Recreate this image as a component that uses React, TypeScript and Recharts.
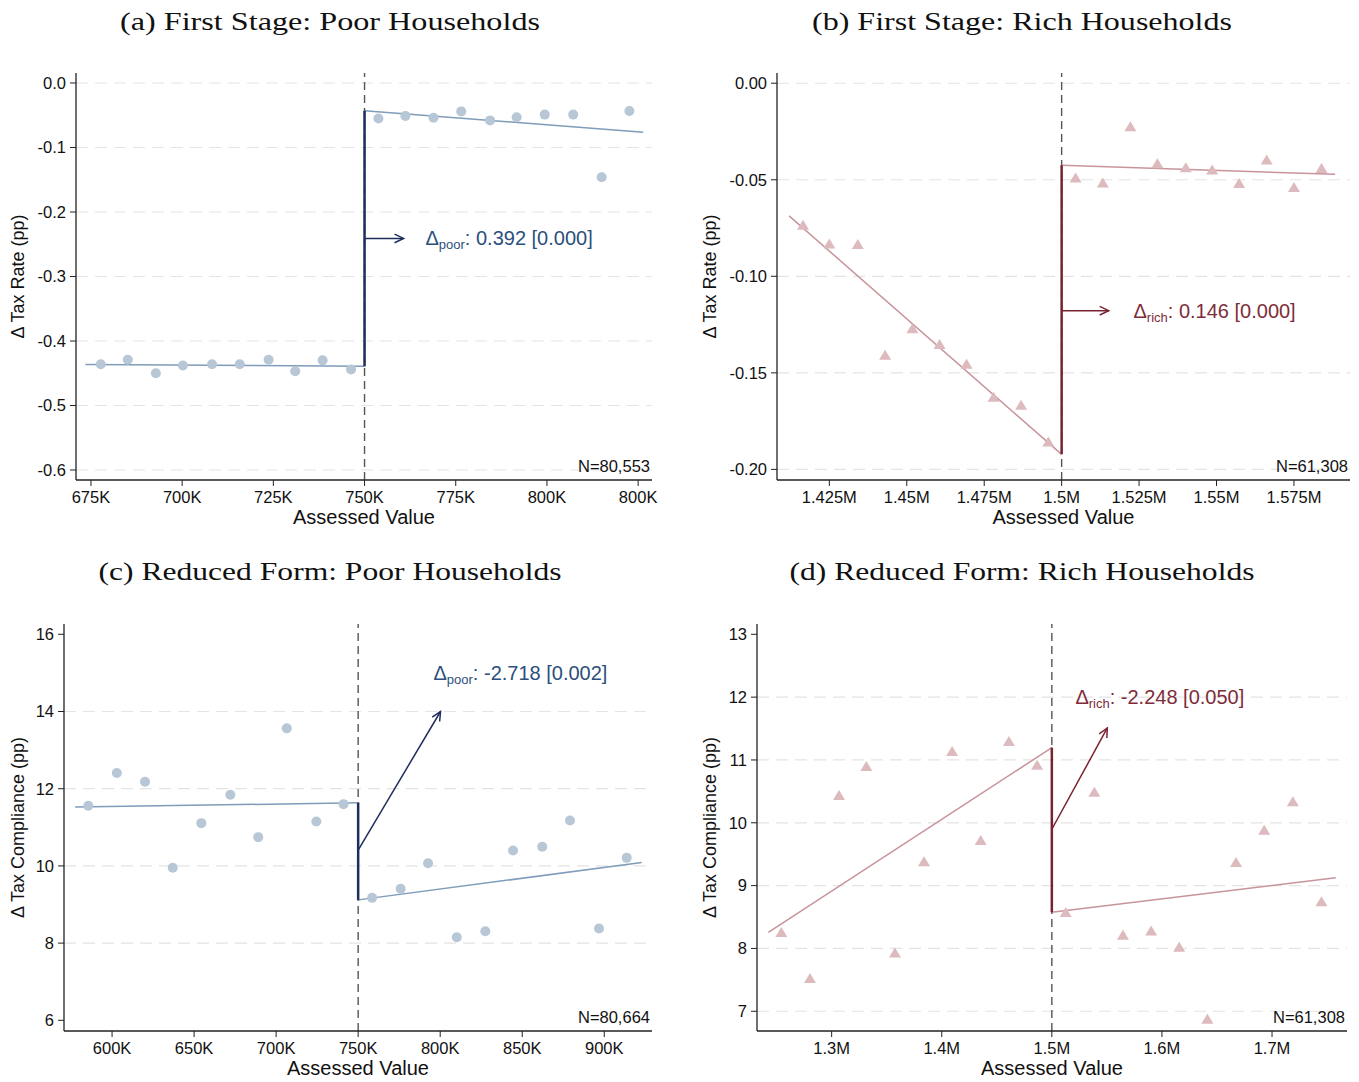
import React from 'react';
import { ComposedChart, XAxis, YAxis, Scatter, Line, ReferenceLine, ReferenceDot } from 'recharts';

// ---------------- Data ----------------
// (a) First stage, poor households (x in thousands)
const aLeftX = [677.7, 685.1, 692.8, 700.2, 708.2, 715.8, 723.7, 731.0, 738.5, 746.3];
const aLeftY = [-0.436, -0.429, -0.450, -0.438, -0.436, -0.436, -0.429, -0.447, -0.430, -0.444];
const aRightX = [753.8, 761.2, 768.9, 776.5, 784.4, 791.7, 799.4, 807.2, 815.0, 822.6];
const aRightY = [-0.055, -0.051, -0.054, -0.044, -0.058, -0.053, -0.049, -0.049, -0.146, -0.0435];
const aFitLeftX = [673.5, 750];
const aFitLeftY = [-0.4365, -0.439];
const aFitRightX = [750, 826.4];
const aFitRightY = [-0.043, -0.0762];

// (b) First stage, rich households (x in millions)
const bLeftX = [1.4165, 1.425, 1.4342, 1.443, 1.4518, 1.4606, 1.4693, 1.478, 1.4869, 1.4957];
const bLeftY = [-0.0734, -0.0831, -0.0834, -0.1408, -0.1271, -0.1352, -0.1454, -0.1625, -0.1667, -0.1857];
const bRightX = [1.5045, 1.5133, 1.5222, 1.5309, 1.5401, 1.5486, 1.5573, 1.5662, 1.575, 1.5839];
const bRightY = [-0.049, -0.0516, -0.0225, -0.0416, -0.0437, -0.0449, -0.0518, -0.0397, -0.0539, -0.044];
const bFitLeftX = [1.412, 1.5];
const bFitLeftY = [-0.0687, -0.1922];
const bFitRightX = [1.5, 1.5883];
const bFitRightY = [-0.0425, -0.0472];

// (c) Reduced form, poor households (x in thousands)
const cLeftX = [585.5, 602.9, 620.1, 637.0, 654.4, 672.1, 689.1, 706.5, 724.5, 741.1];
const cLeftY = [11.557, 12.405, 12.18, 9.95, 11.108, 11.843, 10.745, 13.563, 11.151, 11.6];
const cRightX = [758.5, 775.9, 792.6, 810.1, 827.5, 844.4, 862.2, 879.1, 896.8, 913.7];
const cRightY = [9.172, 9.405, 10.071, 8.152, 8.308, 10.4, 10.494, 11.177, 8.377, 10.209];
const cFitLeftX = [577.5, 750];
const cFitLeftY = [11.523, 11.635];
const cFitRightX = [750, 922.8];
const cFitRightY = [9.12, 10.088];

// (d) Reduced form, rich households (x in millions)
const dLeftX = [1.2543, 1.2803, 1.3067, 1.3315, 1.3575, 1.3839, 1.4094, 1.4354, 1.461, 1.4866];
const dLeftY = [8.257, 7.525, 10.438, 10.9, 7.929, 9.382, 11.138, 9.721, 11.297, 10.92];
const dRightX = [1.5126, 1.5386, 1.5646, 1.5902, 1.6157, 1.6413, 1.6673, 1.6929, 1.7189, 1.7449];
const dRightY = [8.576, 10.491, 8.215, 8.279, 8.024, 6.878, 9.371, 9.886, 10.337, 8.745];
const dFitLeftX = [1.2425, 1.5];
const dFitLeftY = [8.257, 11.196];
const dFitRightX = [1.5, 1.7579];
const dFitRightY = [8.576, 9.127];

// Jumps at the cutoff [bottom, top]
const aJump = [-0.439, -0.043];
const bJump = [-0.1922, -0.0425];
const cJump = [9.12, 11.635];
const dJump = [8.576, 11.196];

// Annotation arrows [x1, y1, x2, y2] and label anchors [x, y]
const aArrow = [750, -0.241, 760.7, -0.241];
const bArrow = [1.5, -0.1178, 1.5152, -0.1178];
const cArrow = [750, 10.41, 800.2, 14.0];
const dArrow = [1.5, 9.897, 1.5504, 11.509];
const aAnnotPos = [766.7, -0.241];
const bAnnotPos = [1.5232, -0.1178];
const cAnnotPos = [795.9, 14.815];
const dAnnotPos = [1.5214, 11.89];

// Texts
const titles = [
  '(a) First Stage: Poor Households',
  '(b) First Stage: Rich Households',
  '(c) Reduced Form: Poor Households',
  '(d) Reduced Form: Rich Households',
];
const annotSubs = ['poor', 'rich', 'poor', 'rich'];
const annotTexts = [': 0.392 [0.000]', ': 0.146 [0.000]', ': -2.718 [0.002]', ': -2.248 [0.050]'];
const nTexts = ['N=80,553', 'N=61,308', 'N=80,664', 'N=61,308'];
const yLabels = ['Δ Tax Rate (pp)', 'Δ Tax Rate (pp)', 'Δ Tax Compliance (pp)', 'Δ Tax Compliance (pp)'];
const xLabel = 'Assessed Value';

// Ticks
const aXTicks = [675, 700, 725, 750, 775, 800, 825];
const aXTickLabels = ['675K', '700K', '725K', '750K', '775K', '800K', '800K'];
const aYTicks = [0, -0.1, -0.2, -0.3, -0.4, -0.5, -0.6];
const aYTickLabels = ['0.0', '-0.1', '-0.2', '-0.3', '-0.4', '-0.5', '-0.6'];
const bXTicks = [1.425, 1.45, 1.475, 1.5, 1.525, 1.55, 1.575];
const bXTickLabels = ['1.425M', '1.45M', '1.475M', '1.5M', '1.525M', '1.55M', '1.575M'];
const bYTicks = [0, -0.05, -0.1, -0.15, -0.2];
const bYTickLabels = ['0.00', '-0.05', '-0.10', '-0.15', '-0.20'];
const cXTicks = [600, 650, 700, 750, 800, 850, 900];
const cXTickLabels = ['600K', '650K', '700K', '750K', '800K', '850K', '900K'];
const cYTicks = [6, 8, 10, 12, 14, 16];
const cYTickLabels = ['6', '8', '10', '12', '14', '16'];
const dXTicks = [1.3, 1.4, 1.5, 1.6, 1.7];
const dXTickLabels = ['1.3M', '1.4M', '1.5M', '1.6M', '1.7M'];
const dYTicks = [7, 8, 9, 10, 11, 12, 13];
const dYTickLabels = ['7', '8', '9', '10', '11', '12', '13'];
const aGrid = [0, -0.1, -0.2, -0.3, -0.4, -0.5, -0.6];
const bGrid = [0, -0.05, -0.1, -0.15, -0.2];
const cGrid = [8, 10, 12, 14];
const dGrid = [7, 8, 9, 10, 11, 12];

// ---------------- Styles ----------------
const SANS = "'Liberation Sans', Arial, Helvetica, sans-serif";
const SERIF = "'Liberation Serif', 'DejaVu Serif', serif";
const POOR = { dot: '#b8c7d6', fit: '#7f9cba', jump: '#1f2d5c', text: '#2c4f7c' };
const RICH = { dot: '#dcbabd', fit: '#c8949a', jump: '#7a2330', text: '#7e2d38' };

type Pt = { x: number; y: number };
const zip = (xs: number[], ys: number[]): Pt[] => xs.map((x, i) => ({ x, y: ys[i] }));

interface Panel {
  left: number; top: number; width: number; height: number;
  mTop: number; mRight: number; yAxisW: number; plotBottom: number;
  xDomain: [number, number]; yDomain: [number, number];
  xTicks: number[]; xTickLabels: string[]; yTicks: number[]; yTickLabels: string[];
  grid: number[]; cutoff: number;
  leftPts: Pt[]; rightPts: Pt[]; leftFit: Pt[]; rightFit: Pt[]; jump: number[];
  arrow: number[]; annotPos: number[]; idx: number;
  pal: typeof POOR; tri: boolean; yLabelX: number;
}

const panels: Panel[] = [
  {
    left: 0, top: 40, width: 680, height: 500, mTop: 33, mRight: 28, yAxisW: 76, plotBottom: 480,
    xDomain: [670.9, 828.8], yDomain: [-0.6155, 0.0155],
    xTicks: aXTicks, xTickLabels: aXTickLabels, yTicks: aYTicks, yTickLabels: aYTickLabels,
    grid: aGrid, cutoff: 750,
    leftPts: zip(aLeftX, aLeftY), rightPts: zip(aRightX, aRightY),
    leftFit: zip(aFitLeftX, aFitLeftY), rightFit: zip(aFitRightX, aFitRightY), jump: aJump,
    arrow: aArrow, annotPos: aAnnotPos, idx: 0, pal: POOR, tri: false, yLabelX: 18,
  },
  {
    left: 680, top: 40, width: 679, height: 500, mTop: 33, mRight: 9, yAxisW: 97, plotBottom: 480,
    xDomain: [1.4081, 1.5931], yDomain: [-0.2055, 0.0053],
    xTicks: bXTicks, xTickLabels: bXTickLabels, yTicks: bYTicks, yTickLabels: bYTickLabels,
    grid: bGrid, cutoff: 1.5,
    leftPts: zip(bLeftX, bLeftY), rightPts: zip(bRightX, bRightY),
    leftFit: zip(bFitLeftX, bFitLeftY), rightFit: zip(bFitRightX, bFitRightY), jump: bJump,
    arrow: bArrow, annotPos: bAnnotPos, idx: 1, pal: RICH, tri: true, yLabelX: 30,
  },
  {
    left: 0, top: 590, width: 680, height: 492, mTop: 34, mRight: 28, yAxisW: 64, plotBottom: 1031,
    xDomain: [570.7, 929.1], yDomain: [5.723, 16.267],
    xTicks: cXTicks, xTickLabels: cXTickLabels, yTicks: cYTicks, yTickLabels: cYTickLabels,
    grid: cGrid, cutoff: 750,
    leftPts: zip(cLeftX, cLeftY), rightPts: zip(cRightX, cRightY),
    leftFit: zip(cFitLeftX, cFitLeftY), rightFit: zip(cFitRightX, cFitRightY), jump: cJump,
    arrow: cArrow, annotPos: cAnnotPos, idx: 2, pal: POOR, tri: false, yLabelX: 18,
  },
  {
    left: 680, top: 590, width: 679, height: 492, mTop: 34, mRight: 12, yAxisW: 77, plotBottom: 1031,
    xDomain: [1.2322, 1.7681], yDomain: [6.686, 13.164],
    xTicks: dXTicks, xTickLabels: dXTickLabels, yTicks: dYTicks, yTickLabels: dYTickLabels,
    grid: dGrid, cutoff: 1.5,
    leftPts: zip(dLeftX, dLeftY), rightPts: zip(dRightX, dRightY),
    leftFit: zip(dFitLeftX, dFitLeftY), rightFit: zip(dFitRightX, dFitRightY), jump: dJump,
    arrow: dArrow, annotPos: dAnnotPos, idx: 3, pal: RICH, tri: true, yLabelX: 30,
  },
];

const titleCenters = [330, 1022, 330, 1022];
const titleTops = [0, 0, 550, 550];
const titleWidths = [420, 420, 463, 465];

const tickStyle = { fontSize: 16.5, fill: '#111', fontFamily: SANS };

function PanelChart({ p }: { p: Panel }) {
  const xAxisH = p.top + p.height - p.plotBottom;
  const dotShape = (props: any) => {
    const { cx, cy } = props;
    if (p.tri) {
      return (
        <path
          d={`M${cx},${cy - 5.3} L${cx + 6},${cy + 4.7} L${cx - 6},${cy + 4.7} Z`}
          fill={p.pal.dot}
        />
      );
    }
    return <circle cx={cx} cy={cy} r={5} fill={p.pal.dot} />;
  };
  const arrowShape = (props: any) => {
    const { x1, y1, x2, y2 } = props;
    const ang = Math.atan2(y2 - y1, x2 - x1);
    const L = 10;
    const A = Math.PI / 7;
    const ax = x2 - L * Math.cos(ang - A);
    const ay = y2 - L * Math.sin(ang - A);
    const bx = x2 - L * Math.cos(ang + A);
    const by = y2 - L * Math.sin(ang + A);
    return (
      <g>
        <line x1={x1} y1={y1} x2={x2} y2={y2} stroke={p.pal.jump} strokeWidth={1.5} />
        <polyline points={`${ax},${ay} ${x2},${y2} ${bx},${by}`} fill="none" stroke={p.pal.jump} strokeWidth={1.5} />
      </g>
    );
  };
  const annotShape = (props: any) => {
    const { cx, cy } = props;
    const dy0 = p.idx < 2 ? 7 : 0;
    return (
      <text x={cx} y={cy + dy0} fill={p.pal.text} fontSize={20} fontFamily={SANS}>
        <tspan>Δ</tspan>
        <tspan fontSize={13} dy={4}>{annotSubs[p.idx]}</tspan>
        <tspan dy={-4}>{annotTexts[p.idx]}</tspan>
      </text>
    );
  };
  const nShape = (props: any) => {
    const { cx, cy } = props;
    return (
      <text x={cx - 2} y={cy - 8} textAnchor="end" fill="#111" fontSize={16.5} fontFamily={SANS}>
        {nTexts[p.idx]}
      </text>
    );
  };
  const yLabelContent = (props: any) => {
    const vb = props.viewBox || {};
    const cy = vb.y + vb.height / 2;
    const x = p.yLabelX;
    return (
      <text
        x={x}
        y={cy}
        transform={`rotate(-90, ${x}, ${cy})`}
        textAnchor="middle"
        dominantBaseline="central"
        fontSize={18}
        fill="#111"
        fontFamily={SANS}
      >
        {yLabels[p.idx]}
      </text>
    );
  };
  const xLabelContent = (props: any) => {
    const vb = props.viewBox || {};
    return (
      <text x={vb.x + vb.width / 2} y={vb.y + 44} textAnchor="middle" fontSize={20} fill="#111" fontFamily={SANS}>
        {xLabel}
      </text>
    );
  };
  return (
    <div style={{ position: 'absolute', left: p.left, top: p.top }}>
      <ComposedChart
        width={p.width}
        height={p.height}
        margin={{ top: p.mTop, right: p.mRight, left: 0, bottom: 0 }}
      >
        <XAxis
          type="number"
          dataKey="x"
          domain={p.xDomain}
          ticks={p.xTicks}
          interval={0}
          allowDataOverflow
          height={xAxisH}
          tickSize={6}
          tickMargin={5}
          tick={tickStyle}
          axisLine={{ stroke: '#222', strokeWidth: 1.3 }}
          tickLine={{ stroke: '#222' }}
          tickFormatter={(v: number, i: number) => p.xTickLabels[i] ?? String(v)}
          label={{ content: xLabelContent } as any}
        />
        <YAxis
          type="number"
          dataKey="y"
          domain={p.yDomain}
          ticks={p.yTicks}
          interval={0}
          allowDataOverflow
          width={p.yAxisW}
          tickSize={6}
          tickMargin={4}
          tick={tickStyle}
          axisLine={{ stroke: '#222', strokeWidth: 1.3 }}
          tickLine={{ stroke: '#222' }}
          tickFormatter={(v: number, i: number) => p.yTickLabels[i] ?? String(v)}
          label={{ content: yLabelContent } as any}
        />
        {p.grid.map((g) => (
          <ReferenceLine key={`g${g}`} y={g} stroke="#e4e4e4" strokeWidth={1.2} strokeDasharray="12 7" ifOverflow="visible" />
        ))}
        <ReferenceLine x={p.cutoff} stroke="#555" strokeWidth={1.4} strokeDasharray="8 5" />
        <Scatter data={p.leftPts} dataKey="y" shape={dotShape} isAnimationActive={false} />
        <Scatter data={p.rightPts} dataKey="y" shape={dotShape} isAnimationActive={false} />
        <Line data={p.leftFit} dataKey="y" type="linear" stroke={p.pal.fit} strokeWidth={1.5} dot={false} activeDot={false} isAnimationActive={false} />
        <Line data={p.rightFit} dataKey="y" type="linear" stroke={p.pal.fit} strokeWidth={1.5} dot={false} activeDot={false} isAnimationActive={false} />
        <Line
          data={[{ x: p.cutoff, y: p.jump[0] }, { x: p.cutoff, y: p.jump[1] }]}
          dataKey="y"
          type="linear"
          stroke={p.pal.jump}
          strokeWidth={2.5}
          dot={false}
          activeDot={false}
          isAnimationActive={false}
        />
        <ReferenceLine
          segment={[{ x: p.arrow[0], y: p.arrow[1] }, { x: p.arrow[2], y: p.arrow[3] }]}
          shape={arrowShape}
          ifOverflow="visible"
        />
        <ReferenceDot x={p.annotPos[0]} y={p.annotPos[1]} r={0} shape={annotShape} ifOverflow="visible" />
        <ReferenceDot x={p.xDomain[1]} y={p.yDomain[0]} r={0} shape={nShape} ifOverflow="visible" />
      </ComposedChart>
    </div>
  );
}

function Title({ idx }: { idx: number }) {
  const cx = titleCenters[idx];
  return (
    <svg style={{ position: 'absolute', left: cx - 250, top: titleTops[idx] }} width={500} height={45}>
      <text
        x={250}
        y={30}
        textAnchor="middle"
        fontFamily={SERIF}
        fontSize={26}
        fill="#111"
        textLength={titleWidths[idx]}
        lengthAdjust="spacingAndGlyphs"
      >
        {titles[idx]}
      </text>
    </svg>
  );
}

export default function App() {
  return (
    <div style={{ position: 'fixed', left: 0, top: 0, width: 1359, height: 1082, background: '#fff', overflow: 'hidden' }}>
      {[0, 1, 2, 3].map((i) => (
        <Title key={`t${i}`} idx={i} />
      ))}
      {panels.map((p) => (
        <PanelChart key={p.idx} p={p} />
      ))}
    </div>
  );
}
